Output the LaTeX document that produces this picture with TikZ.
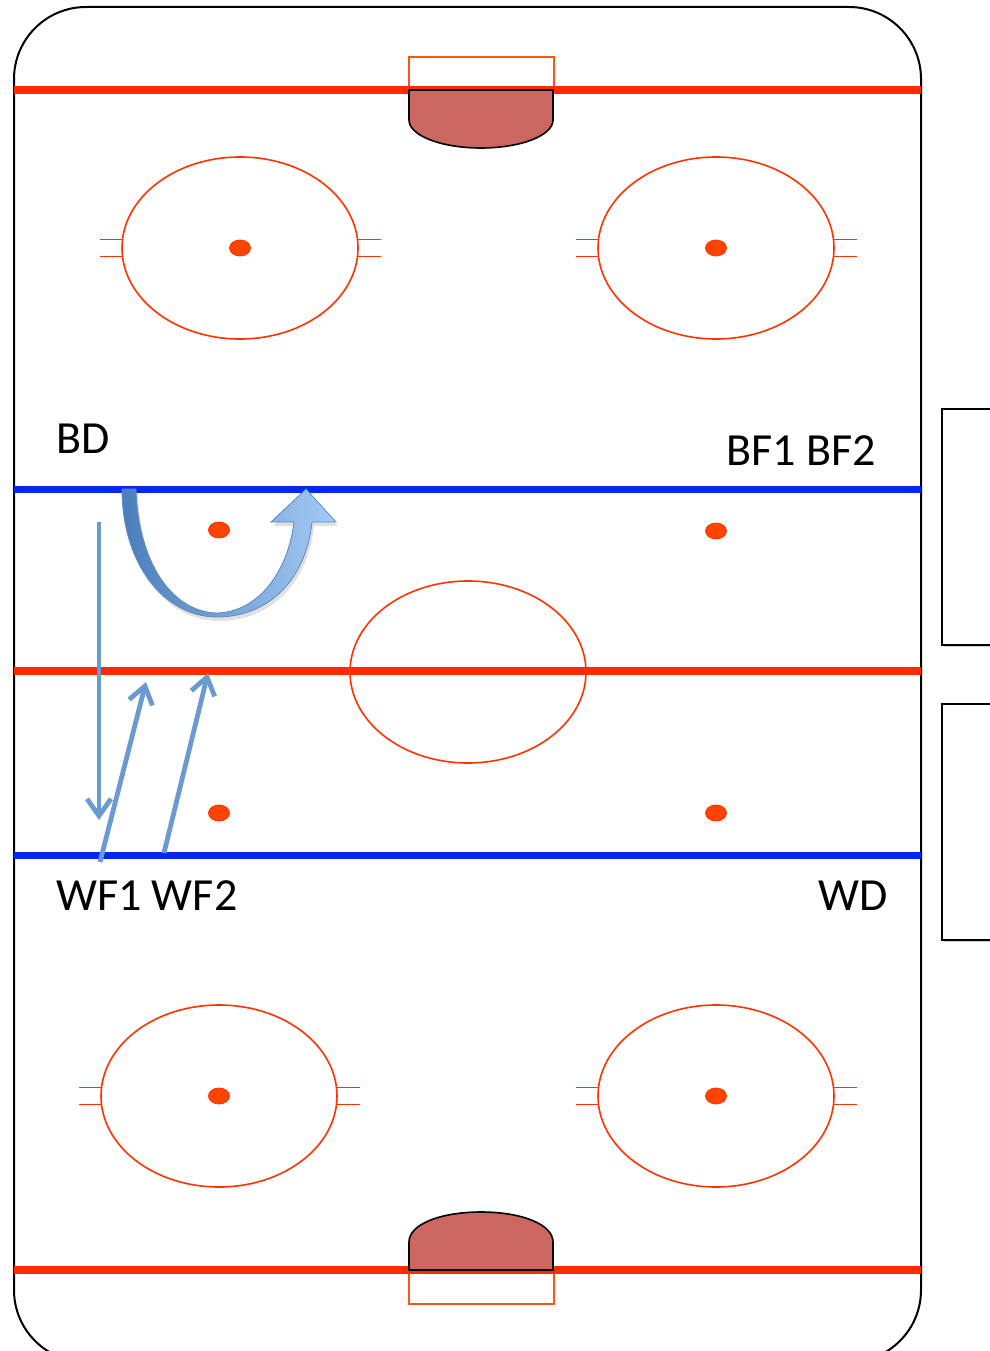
\documentclass[tikz,border=0pt]{standalone}
\usepackage{fontspec}
\setmainfont{Carlito}
\usetikzlibrary{arrows.meta}
\definecolor{rinkred}{HTML}{FF2A00}
\definecolor{circred}{HTML}{FF3300}
\definecolor{dotred}{HTML}{FF4400}
\definecolor{rinkblue}{HTML}{0028F0}
\definecolor{crease}{HTML}{CC6660}
\definecolor{netorange}{HTML}{FF5510}
\definecolor{arrblue}{HTML}{6A9BD0}
\definecolor{arrdark}{HTML}{4A7EBB}
\definecolor{arrlight}{HTML}{A5CBF4}
\tikzset{
  redline/.style={draw=rinkred,line width=7.5pt},
  blueline/.style={draw=rinkblue,line width=7pt},
  fcircle/.style={draw=circred,line width=1.6pt},
  hashmark/.style={draw=circred,line width=1.4pt},
  fdot/.style={fill=dotred,draw=circred,line width=0.8pt},
  creasebox/.style={fill=crease,draw=black,line width=1.6pt},
  netbox/.style={draw=netorange,line width=1.3pt},
  bench/.style={draw=black,line width=1.5pt},
  label/.style={font=\fontsize{46}{50}\selectfont,anchor=base west,inner sep=0pt},
  playarrow/.style={draw=arrblue,line width=4.8pt,-{Straight Barb[length=17pt,width=24pt]}}
}
\begin{document}
\begin{tikzpicture}[x=1pt,y=-1pt]
\useasboundingbox (0,0) rectangle (989,1351);
\fill[white] (0,0) rectangle (989,1351);

% rink outline
\draw[black,line width=2pt,rounded corners=72pt] (14,7) rectangle (921,1362);

% benches
\fill[gray!40] (944,411) rectangle (995,647);
\fill[gray!40] (944,706) rectangle (995,942);
\draw[bench,fill=white] (942,409) rectangle (995,645);
\draw[bench,fill=white] (942,704) rectangle (995,940);

% nets
\draw[netbox] (409,57) rectangle (554,90);
\draw[netbox] (409,1270) rectangle (554,1304);

% lines
\draw[redline] (14,90) -- (921,90);
\draw[redline] (14,1270) -- (921,1270);
\draw[redline] (14,671) -- (921,671);
\draw[blueline] (14,489) -- (921,489);
\draw[blueline] (14,855) -- (921,855);

% creases
\draw[creasebox] (409,90) -- (409,120) .. controls (409,135.5) and (441,148) .. (481,148)
  .. controls (521,148) and (553,135.5) .. (553,120) -- (553,90) -- cycle;
\draw[creasebox] (409,1270) -- (409,1242) .. controls (409,1224) and (441,1212) .. (481,1212)
  .. controls (521,1212) and (553,1224) .. (553,1242) -- (553,1270) -- cycle;

% faceoff circles
\draw[fcircle] (240,248) ellipse [x radius=118pt, y radius=91pt];
\draw[fcircle] (716,248) ellipse [x radius=118pt, y radius=91pt];
\draw[fcircle] (219,1096) ellipse [x radius=118pt, y radius=91pt];
\draw[fcircle] (716,1096) ellipse [x radius=118pt, y radius=91pt];
\draw[fcircle] (468,672) ellipse [x radius=118pt, y radius=91pt];

% hash marks
\foreach \cx/\cy in {240/248,716/248,219/1096,716/1096}{
  \foreach \dy in {-8.5,8.5}{
    \draw[hashmark] (\cx-140,\cy+\dy) -- (\cx-118,\cy+\dy);
    \draw[hashmark] (\cx+118,\cy+\dy) -- (\cx+141,\cy+\dy);
  }
}

% faceoff dots
\foreach \px/\py in {240/248,716/248,219/530,716/531,219/813,716/813,219/1096,716/1096}{
  \draw[fdot] (\px,\py) ellipse [x radius=10.5pt, y radius=8pt];
}

% labels
\node[label] (bd) at (56,453) {BD};
\node[label] (bf) at (726,465) {BF1 BF2};
\node[label] (wf) at (56,910) {WF1 WF2};
\node[label] (wd) at (818,910) {WD};

% curved ribbon arrow (shadow then body)
\fill[black,opacity=0.12,shift={(2pt,-4pt)}] (122,489) .. controls (122,565) and (165,617) .. (217,617)
  .. controls (268,617) and (306,580) .. (312,522) -- (336,522) -- (306,489) -- (271,522) -- (294,522)
  .. controls (288,572) and (258,612) .. (217,613) .. controls (172,612) and (138,562) .. (136,489) -- cycle;
\shade[left color=arrdark,right color=arrlight,draw=arrdark!90,line width=0.8pt]
  (122,489) .. controls (122,565) and (165,617) .. (217,617)
  .. controls (268,617) and (306,580) .. (312,522) -- (336,522) -- (306,489) -- (271,522) -- (294,522)
  .. controls (288,572) and (258,612) .. (217,613) .. controls (172,612) and (138,562) .. (136,489) -- cycle;

% straight play arrows
\coordinate (a1s) at (99,522);
\coordinate (a1e) at (99,820);
\coordinate (a2s) at (100,862);
\coordinate (a2e) at (146,682);
\coordinate (a3s) at (164,853);
\coordinate (a3e) at (208,673);
\draw[playarrow] (a1s) -- (a1e);
\draw[playarrow] (a2s) -- (a2e);
\draw[playarrow] (a3s) -- (a3e);
\end{tikzpicture}
\end{document}
